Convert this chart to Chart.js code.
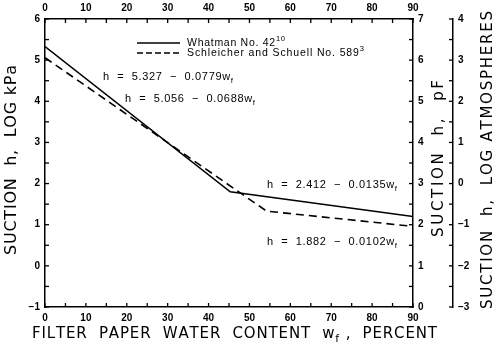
<!DOCTYPE html>
<html>
<head>
<meta charset="utf-8">
<script src="https://cdn.jsdelivr.net/npm/chart.js@4/dist/chart.umd.min.js"></script>
<style>
body { margin: 0; background: #fff; }
</style>
</head>
<body>
<canvas id="chart" width="500" height="354"></canvas>
<script>
// data (break points of the two fitted lines)
const whatmanX = [0, 45.3, 90];
const whatmanY = [5.33, 1.80, 1.20];
const schleicherX = [0, 54.2, 90];
const schleicherY = [5.06, 1.33, 0.96];

const xRange = [0, 90];
const kpaRange = [-1, 6];
const pfRange = [0, 7];
const atmRange = [-3, 4];

const FONT = '"Liberation Sans", Arial, sans-serif';
const TITLE_FONT = '"DejaVu Sans", sans-serif';

function toPoints(xs, ys) {
    return xs.map((x, i) => ({ x: x, y: ys[i] }));
}

function minus(v) {
    return String(v).replace('-', '\u2212');
}

// draws text made of parts (normal / sub / sup), optionally spread to a width and rotated
function drawRich(ctx, parts, x, y, size, opts) {
    opts = opts || {};
    const family = opts.family || FONT;
    const chars = [];
    parts.forEach(p => {
        const s = p.sub || p.sup ? size * 0.72 : size;
        const dy = p.sub ? size * 0.32 : (p.sup ? -size * 0.38 : 0);
        for (const c of p.t) chars.push({ c: c, s: s, dy: dy });
    });
    let natural = 0;
    chars.forEach(ch => {
        ctx.font = ch.s + 'px ' + family;
        ch.w = ctx.measureText(ch.c).width;
        natural += ch.w;
    });
    const extra = opts.width ? (opts.width - natural) / (chars.length - 1) : 0;
    ctx.save();
    ctx.translate(x, y);
    if (opts.angle) ctx.rotate(opts.angle);
    ctx.fillStyle = '#000';
    ctx.textBaseline = 'middle';
    ctx.textAlign = 'left';
    let cx = 0;
    chars.forEach(ch => {
        ctx.font = ch.s + 'px ' + family;
        ctx.fillText(ch.c, cx, ch.dy);
        cx += ch.w + extra;
    });
    ctx.restore();
}

// inward tick marks on every axis
const tickMarks = {
    id: 'tickMarks',
    afterDraw(chart) {
        const ctx = chart.ctx;
        ctx.save();
        ctx.strokeStyle = '#000';
        ctx.lineWidth = 1.3;
        Object.values(chart.scales).forEach(scale => {
            scale.ticks.forEach(t => {
                const p = scale.getPixelForValue(t.value);
                const len = 4;
                ctx.beginPath();
                if (scale.id === 'x') { ctx.moveTo(p, scale.top); ctx.lineTo(p, scale.top - len); }
                if (scale.id === 'x2') { ctx.moveTo(p, scale.bottom); ctx.lineTo(p, scale.bottom + len); }
                if (scale.id === 'y') { ctx.moveTo(scale.right, p); ctx.lineTo(scale.right + len, p); }
                if (scale.id === 'pf') { ctx.moveTo(scale.left, p); ctx.lineTo(scale.left - len, p); }
                if (scale.id === 'atm') { ctx.moveTo(scale.left, p); ctx.lineTo(scale.left - len, p); }
                ctx.stroke();
            });
        });
        ctx.restore();
    }
};

// legend, equations and axis titles
const texts = {
    id: 'texts',
    afterDraw(chart) {
        const ctx = chart.ctx;

        // legend
        ctx.save();
        ctx.strokeStyle = '#000';
        ctx.lineWidth = 1.5;
        ctx.beginPath(); ctx.moveTo(137, 43); ctx.lineTo(180, 43); ctx.stroke();
        ctx.setLineDash([6, 3]);
        ctx.beginPath(); ctx.moveTo(137, 53); ctx.lineTo(180, 53); ctx.stroke();
        ctx.restore();
        drawRich(ctx, [{ t: 'Whatman No. 42' }, { t: '10', sup: true }], 187, 43, 10.5, { width: 98 });
        drawRich(ctx, [{ t: 'Schleicher and Schuell No. 589' }, { t: '3', sup: true }], 187, 53, 10.5, { width: 177 });

        // equations
        drawRich(ctx, [{ t: 'h  =  5.327  \u2212  0.0779w' }, { t: 'f', sub: true }], 103, 77, 11, { width: 130 });
        drawRich(ctx, [{ t: 'h  =  5.056  \u2212  0.0688w' }, { t: 'f', sub: true }], 125, 99, 11, { width: 130 });
        drawRich(ctx, [{ t: 'h  =  2.412  \u2212  0.0135w' }, { t: 'f', sub: true }], 267, 185, 11, { width: 130 });
        drawRich(ctx, [{ t: 'h  =  1.882  \u2212  0.0102w' }, { t: 'f', sub: true }], 267, 242, 11, { width: 130 });

        // axis titles
        drawRich(ctx, [{ t: 'SUCTION  h,  LOG kPa' }], 12, 255, 16,
            { width: 190, angle: -Math.PI / 2, family: TITLE_FONT });
        drawRich(ctx, [{ t: 'FILTER  PAPER  WATER  CONTENT  w' }, { t: 'f', sub: true }, { t: ' ,  PERCENT' }],
            32, 334, 15, { width: 405, family: TITLE_FONT });
        drawRich(ctx, [{ t: 'SUCTION  h,  pF' }], 439, 237, 15,
            { width: 157, angle: -Math.PI / 2, family: TITLE_FONT });
        drawRich(ctx, [{ t: 'SUCTION  h,  LOG ATMOSPHERES' }], 488, 309, 15,
            { width: 298, angle: -Math.PI / 2, family: TITLE_FONT });
    }
};

function axis(position, range, step, fit, major, extra) {
    return Object.assign({
        type: 'linear',
        position: position,
        min: range[0],
        max: range[1],
        grid: { display: false, drawTicks: false },
        border: { display: true, color: '#000', width: 1.5 },
        ticks: {
            stepSize: step,
            autoSkip: false,
            maxRotation: 0,
            padding: 5,
            color: '#000',
            font: { family: FONT, size: 10, weight: 'bold' },
            callback: v => (Math.abs(v % major) < 1e-9 ? minus(v) : '')
        },
        afterFit: fit
    }, extra || {});
}

new Chart(document.getElementById('chart'), {
    type: 'scatter',
    data: {
        datasets: [
            {
                label: 'Whatman No. 42',
                data: toPoints(whatmanX, whatmanY),
                showLine: true,
                borderColor: '#000',
                borderWidth: 1.6,
                pointRadius: 0,
                xAxisID: 'x',
                yAxisID: 'y'
            },
            {
                label: 'Schleicher and Schuell No. 589',
                data: toPoints(schleicherX, schleicherY),
                showLine: true,
                borderColor: '#000',
                borderWidth: 1.6,
                borderDash: [8, 5],
                pointRadius: 0,
                xAxisID: 'x',
                yAxisID: 'y'
            }
        ]
    },
    options: {
        responsive: false,
        animation: false,
        layout: { padding: 0 },
        plugins: { legend: { display: false }, tooltip: { enabled: false } },
        scales: {
            x: axis('bottom', xRange, 5, s => { s.height = 47; }, 10),
            x2: axis('top', xRange, 5, s => { s.height = 19; }, 10),
            y: axis('left', kpaRange, 0.5, s => { s.width = 45; }, 1),
            pf: axis('right', pfRange, 0.5, s => { s.width = 40; }, 1, { weight: 0 }),
            atm: axis('right', atmRange, 0.5, s => { s.width = 47; }, 1, { weight: 1 })
        }
    },
    plugins: [tickMarks, texts]
});
</script>
</body>
</html>
